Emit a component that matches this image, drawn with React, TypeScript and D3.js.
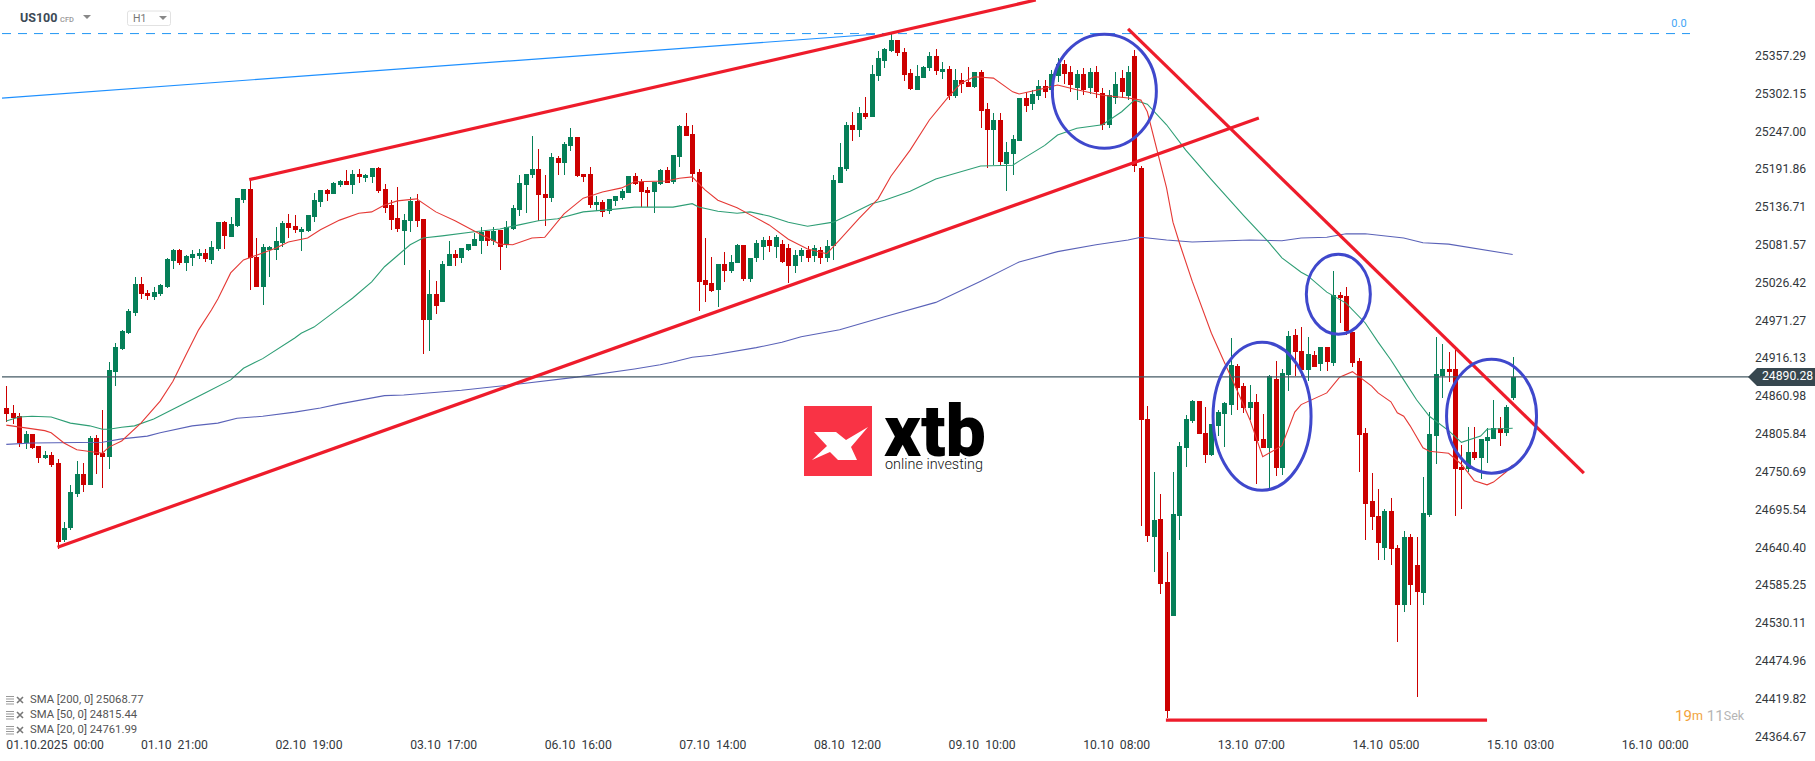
// App.tsx - US100 H1 candles with SMA lines and hand-drawn analysis marks
import * as d3 from "d3"

const priceTicks = [25357.29, 25302.15, 25247.0, 25191.86, 25136.71, 25081.57, 25026.42, 24971.27, 24916.13, 24860.98, 24805.84, 24750.69, 24695.54, 24640.4, 24585.25, 24530.11, 24474.96, 24419.82, 24364.67]
const timeTicks: [number, string][] = [[0, "01.10.2025  00:00"], [21, "01.10  21:00"], [42, "02.10  19:00"], [63, "03.10  17:00"], [84, "06.10  16:00"], [105, "07.10  14:00"], [126, "08.10  12:00"], [147, "09.10  10:00"], [168, "10.10  08:00"], [189, "13.10  07:00"], [210, "14.10  05:00"], [231, "15.10  03:00"], [252, "16.10  00:00"]]

const opens = [24845,24838,24833,24794,24807,24789,24772,24777,24765,24653,24670,24719,24749,24733,24801,24779,24774,24897,24931,24954,24983,25026,25013,25007,25011,25021,25059,25075,25056,25064,25067,25071,25061,25077,25116,25094,25110,25148,25164,25065,25021,25075,25075,25086,25115,25110,25102,25103,25124,25145,25163,25157,25170,25176,25170,25186,25180,25182,25195,25164,25141,25122,25103,25118,25147,25121,24973,25011,25000,25052,25070,25064,25075,25081,25089,25103,25089,25105,25083,25106,25134,25170,25185,25194,25157,25151,25210,25202,25227,25240,25186,25186,25141,25145,25132,25147,25151,25159,25183,25175,25163,25160,25172,25192,25175,25211,25256,25245,25189,25032,25027,25017,25055,25045,25056,25083,25033,25064,25080,25090,25080,25084,25078,25052,25067,25075,25067,25075,25064,25081,25173,25194,25258,25250,25275,25269,25329,25351,25366,25382,25364,25334,25309,25326,25341,25358,25335,25339,25300,25323,25320,25313,25335,25281,25250,25265,25201,25215,25234,25297,25288,25300,25315,25309,25329,25347,25335,25312,25332,25312,25335,25304,25258,25297,25326,25300,25358,25195,24829,24657,24683,24591,24542,24688,24787,24826,24855,24809,24777,24819,24836,24850,24906,24877,24845,24854,24800,24787,24887,24758,24893,24951,24928,24900,24922,24909,24934,24911,25010,25008,24956,24914,24809,24709,24688,24641,24695,24641,24558,24657,24616,24575,24689,24804,24892,24902,24902,24759,24756,24781,24772,24797,24800,24816,24809,24860]
const highs = [24877,24850,24838,24812,24807,24789,24782,24781,24771,24679,24733,24768,24765,24804,24806,24842,24912,24940,24959,24989,25036,25036,25017,25021,25026,25064,25077,25077,25068,25075,25077,25077,25089,25116,25118,25124,25151,25164,25179,25093,25084,25081,25109,25118,25128,25127,25109,25127,25159,25163,25164,25175,25178,25192,25192,25194,25186,25195,25196,25172,25148,25167,25128,25153,25157,25121,25046,25030,25059,25089,25075,25078,25084,25100,25109,25103,25109,25105,25118,25141,25185,25186,25242,25223,25185,25217,25213,25233,25253,25240,25186,25196,25154,25148,25150,25154,25164,25183,25188,25179,25167,25175,25194,25196,25214,25258,25275,25258,25194,25093,25065,25055,25073,25068,25084,25083,25064,25090,25094,25096,25097,25090,25084,25075,25078,25081,25083,25080,25090,25185,25231,25262,25277,25284,25299,25345,25366,25370,25392,25382,25370,25339,25345,25344,25364,25369,25350,25344,25339,25334,25342,25335,25338,25290,25275,25275,25233,25243,25297,25306,25309,25323,25323,25338,25355,25353,25344,25338,25341,25341,25344,25312,25309,25335,25338,25344,25367,25198,24848,24752,24720,24635,24752,24795,24835,24857,24855,24847,24822,24842,24854,24947,24909,24881,24879,24865,24836,24893,24914,24902,24957,24960,24963,24949,24928,24934,24934,25045,25014,25021,24956,24918,24816,24750,24727,24698,24714,24645,24666,24661,24657,24744,24839,24949,24938,24927,24930,24791,24817,24817,24800,24816,24857,24832,24850,24919]
const lows = [24825,24822,24788,24785,24785,24765,24771,24759,24639,24650,24667,24715,24722,24733,24749,24728,24756,24877,24930,24953,24979,25004,25003,25003,25008,25020,25048,25053,25045,25052,25062,25058,25055,25074,25077,25094,25109,25144,25017,25021,24995,25036,25061,25080,25093,25100,25074,25102,25116,25138,25147,25157,25167,25170,25157,25173,25175,25173,25159,25129,25105,25102,25053,25102,25109,24924,24928,24982,25000,25052,25052,25056,25074,25081,25070,25081,25083,25046,25078,25105,25125,25129,25180,25118,25110,25145,25185,25185,25220,25182,25175,25137,25132,25124,25128,25140,25148,25159,25170,25138,25138,25129,25170,25173,25172,25196,25242,25175,24986,25000,25014,24992,25029,25042,25056,25030,25029,25058,25061,25073,25064,25056,25027,25042,25058,25058,25058,25055,25058,25061,25173,25191,25234,25240,25266,25269,25322,25341,25364,25358,25322,25309,25309,25326,25336,25331,25325,25294,25297,25304,25313,25312,25253,25195,25199,25198,25161,25185,25234,25277,25280,25294,25297,25303,25320,25317,25306,25294,25301,25303,25297,25250,25253,25288,25297,25294,25189,24673,24650,24606,24574,24393,24542,24653,24759,24823,24807,24765,24775,24804,24788,24835,24842,24838,24828,24734,24787,24727,24746,24747,24870,24892,24892,24884,24905,24899,24899,24906,24969,24951,24905,24752,24653,24667,24623,24623,24616,24504,24548,24558,24424,24558,24686,24763,24860,24883,24688,24698,24752,24769,24742,24765,24800,24789,24804,24857]
const closes = [24836,24830,24794,24807,24786,24772,24777,24762,24650,24670,24722,24749,24732,24801,24777,24774,24900,24934,24957,24986,25026,25011,25008,25014,25024,25062,25075,25056,25067,25070,25071,25062,25080,25116,25096,25113,25151,25164,25064,25021,25080,25080,25089,25115,25108,25105,25106,25127,25148,25163,25157,25173,25176,25170,25186,25182,25185,25195,25161,25137,25119,25106,25119,25147,25118,24973,25011,24994,25055,25070,25064,25078,25084,25091,25102,25089,25103,25080,25109,25137,25173,25186,25194,25156,25151,25211,25202,25230,25240,25183,25182,25141,25145,25131,25150,25154,25161,25183,25172,25160,25159,25175,25192,25173,25214,25256,25242,25186,25029,25024,25016,25055,25045,25058,25083,25033,25064,25086,25090,25081,25094,25058,25052,25068,25075,25064,25078,25064,25081,25178,25196,25258,25250,25275,25269,25332,25355,25369,25382,25363,25331,25310,25329,25342,25358,25336,25339,25300,25323,25317,25313,25335,25278,25250,25265,25204,25218,25237,25297,25285,25303,25315,25306,25332,25347,25332,25316,25332,25309,25335,25306,25258,25301,25317,25306,25335,25198,24828,24658,24682,24588,24403,24690,24789,24829,24855,24807,24777,24822,24839,24852,24908,24874,24845,24854,24797,24787,24892,24758,24896,24950,24927,24900,24924,24905,24934,24912,25010,25005,24957,24911,24806,24705,24686,24648,24695,24639,24558,24657,24587,24577,24692,24807,24895,24902,24898,24756,24755,24781,24772,24800,24803,24816,24809,24847,24890.28]

const sma20Hours = [0,3,6,7,9,11,15,16,18,21,24,26,28,30,32,33,35,37,40,42,44,47,49,52,55,57,59,61,64,67,70,73,77,79,82,84,87,90,93,96,98,103,105,107,109,111,114,116,119,122,125,128,130,133,136,138,141,144,147,149,151,154,157,158,161,164,167,171,175,177,178,181,182,183,185,188,190,192,194,196,199,201,202,206,208,210,213,214,216,217,218,219,221,222,225,227,229,231,232,234,235]
const sma20 = [24820,24816,24812,24809,24794,24784,24779,24788,24797,24823,24855,24884,24922,24959,24988,25004,25042,25061,25071,25078,25087,25093,25105,25119,25129,25131,25141,25147,25150,25131,25118,25103,25084,25083,25093,25094,25128,25151,25160,25166,25175,25176,25180,25182,25163,25148,25137,25127,25112,25091,25077,25070,25090,25121,25150,25183,25221,25265,25299,25319,25328,25326,25306,25303,25309,25316,25309,25301,25297,25294,25277,25166,25116,25086,25030,24954,24912,24871,24828,24774,24790,24839,24850,24867,24890,24898,24877,24867,24854,24838,24833,24819,24787,24782,24779,24763,24739,24733,24737,24752,24762]
const sma50Hours = [0,2,4,7,10,13,15,16,18,20,23,27,31,35,37,40,45,46,48,52,54,57,59,61,63,65,68,73,77,80,83,86,90,95,98,104,107,108,111,114,116,119,122,125,129,132,135,137,141,145,152,157,158,162,164,167,171,174,176,178,181,184,188,193,197,199,202,203,206,209,212,214,216,218,220,222,225,227,230,231,235]
const sma50 = [24826,24832,24833,24832,24823,24819,24814,24814,24817,24819,24829,24848,24867,24886,24903,24917,24947,24954,24963,24991,25005,25029,25051,25067,25083,25093,25096,25102,25106,25112,25118,25121,25131,25135,25138,25138,25143,25138,25132,25129,25131,25125,25116,25110,25116,25129,25143,25148,25161,25179,25198,25199,25205,25228,25243,25253,25258,25277,25294,25288,25258,25221,25178,25126,25086,25064,25043,25038,25014,24998,24969,24941,24915,24886,24857,24833,24812,24795,24804,24814,24815.44]
const sma200Hours = [0,4,15,18,22,24,29,33,36,40,45,49,52,59,62,71,80,89,98,102,104,107,110,117,121,124,130,137,145,152,158,164,170,175,177,181,185,194,199,202,206,209,212,218,221,225,235]
const sma200 = [24792,24794,24795,24800,24804,24809,24819,24823,24830,24833,24839,24845,24851,24863,24864,24871,24880,24890,24902,24908,24912,24919,24922,24933,24941,24949,24959,24978,24999,25030,25058,25073,25083,25090,25094,25090,25087,25090,25089,25093,25094,25099,25099,25093,25086,25084,25068.77]

const currentPrice = 24890.28
const fibLevel = 25391

// hand-drawn marks, [hour index, price]
const trendLines: [number, number][][] = [
  [[37.9, 25178], [160.6, 25440]],
  [[8, 24642], [195.4, 25268]],
  [[175, 25398], [246.1, 24750]],
  [[180.9, 24390], [231, 24390]],
]
const fanLine: [number, number][] = [[-0.67, 25297], [135.5, 25390]]
const circles: [number, number, number, number][] = [
  [171.3, 25307, 52, 57],
  [195.9, 24833, 49, 74],
  [207.8, 25011, 32, 40],
  [231.7, 24833, 45, 57],
]

const legendRows = ["SMA [200, 0] 25068.77", "SMA [50, 0] 24815.44", "SMA [20, 0] 24761.99"]

const width = 1815
const height = 761
const font = "Roboto, sans-serif"
const green = "#067f58"
const red = "#cc0000"

export default function App() {
  const x = d3.scaleLinear().domain([0, 235]).range([6.3, 1512.7])
  const y = d3.scaleLinear().domain([priceTicks[0], priceTicks[priceTicks.length - 1]]).range([56.7, 737.4])
  const line = d3.line<[number, number]>().x((d) => x(d[0])).y((d) => y(d[1]))
  const zipLine = (h: number[], v: number[]) => line(h.map((e, i) => [e, v[i]] as [number, number])) || ""
  const curY = y(currentPrice)

  return (
    <svg width={width} height={height} style={{ position: "fixed", left: 0, top: 0, background: "#fff" }} fontFamily={font}>
      {/* fib level and fan */}
      <line x1={2} x2={1690} y1={y(fibLevel)} y2={y(fibLevel)} stroke="#2196f3" strokeWidth={1} strokeDasharray="9 7" />
      <text x={1679} y={24} textAnchor="middle" dominantBaseline="middle" fontSize={11} fill="#42a5f5">0.0</text>
      <path d={line(fanLine) || ""} stroke="#1e90ff" strokeWidth={1.2} fill="none" />

      {/* candles */}
      <g shapeRendering="crispEdges">
        {opens.map((o, i) => {
          const c = closes[i]
          const col = c >= o ? green : red
          const cx = Math.round(x(i))
          const top = y(Math.max(o, c))
          const bot = y(Math.min(o, c))
          return (
            <g key={i}>
              <line x1={cx + 0.5} x2={cx + 0.5} y1={y(highs[i])} y2={y(lows[i])} stroke={col} strokeWidth={1} />
              <rect x={cx - 2} y={top} width={5} height={Math.max(bot - top, 2)} fill={col} />
            </g>
          )
        })}
      </g>

      {/* moving averages */}
      <path d={zipLine(sma200Hours, sma200)} stroke="#5a62b8" strokeWidth={1.1} fill="none" />
      <path d={zipLine(sma50Hours, sma50)} stroke="#2e9e75" strokeWidth={1.1} fill="none" />
      <path d={zipLine(sma20Hours, sma20)} stroke="#e53935" strokeWidth={1.1} fill="none" />

      {/* current price */}
      <line x1={2} x2={1750} y1={curY} y2={curY} stroke="#455a64" strokeWidth={1.2} />

      {/* analysis marks */}
      {trendLines.map((t, i) => (
        <path key={i} d={line(t) || ""} stroke="#ee1c2b" strokeWidth={3.2} fill="none" />
      ))}
      {circles.map((c, i) => (
        <ellipse key={i} cx={x(c[0])} cy={y(c[1])} rx={c[2]} ry={c[3]} fill="none" stroke="#3f48cc" strokeWidth={3} />
      ))}

      {/* logo */}
      <rect x={804} y={406} width={68} height={70} fill="#f93345" />
      <path d="M814 432 L836 432 L846 440 L868 427 L851 447 L857 460 L838 460 L830 452 L812 460 L827 446 Z" fill="#fff" />
      <text x={884} y={456} fontSize={72} fontWeight={900} fontFamily={font} fill="#000" textLength={102} lengthAdjust="spacingAndGlyphs">xtb</text>
      <text x={885} y={469} fontSize={15.5} fontWeight={300} fill="#111" textLength={98} lengthAdjust="spacingAndGlyphs">online investing</text>

      {/* price axis */}
      {priceTicks.map((t) => (
        <text key={t} x={1755} y={y(t)} dominantBaseline="middle" fontSize={12.2} fill="#33383d">{t.toFixed(2)}</text>
      ))}
      <path d={`M1748 ${curY} L1757 ${curY - 9} L1815 ${curY - 9} L1815 ${curY + 9} L1757 ${curY + 9} Z`} fill="#37474f" />
      <text x={1762} y={curY} dominantBaseline="middle" fontSize={12.2} fill="#fff">{currentPrice.toFixed(2)}</text>

      {/* time axis */}
      {timeTicks.map((t) => (
        <text key={t[0]} x={x(t[0])} y={746} dominantBaseline="middle" fontSize={12.2} fill="#33383d" style={{ whiteSpace: "pre" }}>{t[1]}</text>
      ))}

      {/* header */}
      <text x={20} y={19} dominantBaseline="middle" fontSize={12.5} fontWeight={700} fill="#3c4a56">US100</text>
      <text x={60} y={20} dominantBaseline="middle" fontSize={7.5} fontWeight={500} fill="#999">CFD</text>
      <path d="M83 15 L91 15 L87 19 Z" fill="#888" />
      <rect x={127.5} y={11} width={43} height={14.5} rx={2} fill="#fff" stroke="#e2e2e2" />
      <text x={133} y={19.5} dominantBaseline="middle" fontSize={10.5} fill="#777">H1</text>
      <path d="M159 16 L167 16 L163 20 Z" fill="#888" />

      {/* indicator legend */}
      {legendRows.map((l, i) => (
        <g key={l} transform={`translate(0,${700 + i * 15})`}>
          <path d="M6 -3.5 H14 M6 -1 H14 M6 1.5 H14 M6 4 H14" stroke="#999" strokeWidth={1} />
          <path d="M17 -3 L23 3 M23 -3 L17 3" stroke="#777" strokeWidth={1.6} />
          <text x={30} y={0} dominantBaseline="middle" fontSize={11.3} fill="#555">{l}</text>
        </g>
      ))}

      {/* countdown */}
      <text x={1675} y={717} dominantBaseline="middle" fontSize={15} fill="#f2a33c">19<tspan fontSize={12.5} fill="#f2a33c">m</tspan><tspan dx={4} fill="#b5b5b5">11</tspan><tspan fontSize={12.5} fill="#b5b5b5">Sek</tspan></text>
    </svg>
  )
}
